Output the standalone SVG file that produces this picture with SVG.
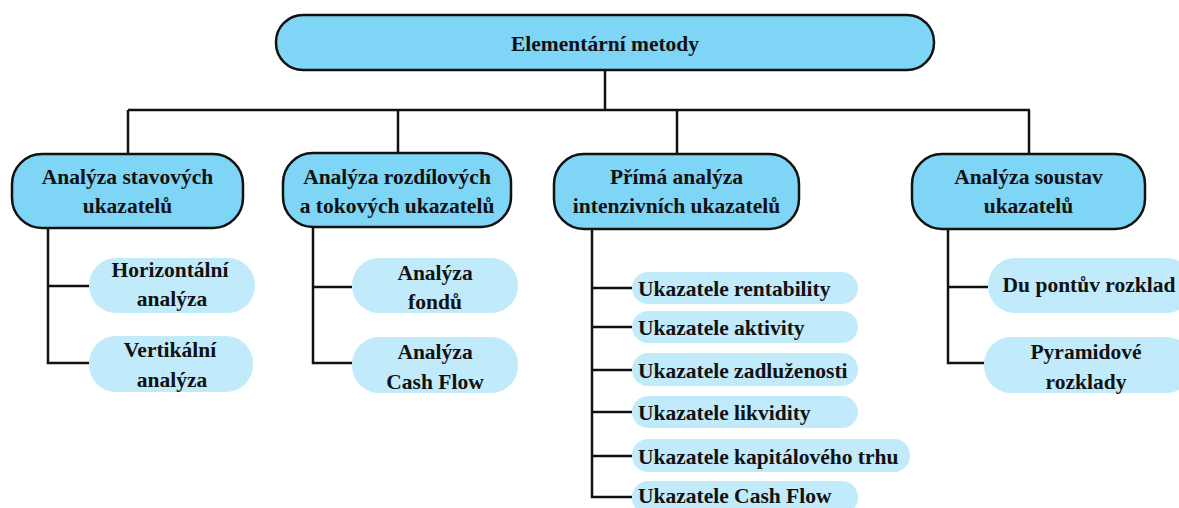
<svg xmlns="http://www.w3.org/2000/svg" width="1179" height="508" viewBox="0 0 1179 508">
<style>
.main{fill:#7fd5f5;stroke:#111;stroke-width:2.5}
.sub{fill:#c1ebfb;stroke:none}
text{font-family:"Liberation Serif","Times New Roman",serif;font-weight:bold;font-size:21.5px;fill:#111}
.c{text-anchor:middle}
.conn{fill:none;stroke:#111;stroke-width:2.5}
</style>
<rect width="1179" height="508" fill="#fff"/>
<g id="connectors" class="conn">
<path d="M605 70V110M128 110H1030M128 110V154M398 110V153M677 110V154M1029 110V154"/>
<path d="M48 228V363H89M48 286H89"/>
<path d="M313 227V363H352M313 287H352"/>
<path d="M592 229V497H632M592 288H632M592 327H632M592 370H632M592 412H632M592 456H632"/>
<path d="M948 229V363H984M948 287H988"/>
</g>
<g id="root"><rect class="main" x="276" y="15" width="658" height="55" rx="27"/><text class="c" x="605" y="51">Elementární metody</text></g>
<g id="n1"><rect class="main" x="12" y="154" width="231" height="74" rx="30"/><text class="c" x="127.5" y="184">Analýza stavových</text><text class="c" x="127.5" y="213">ukazatelů</text></g>
<g id="n2"><rect class="main" x="283" y="153" width="228" height="74" rx="30"/><text class="c" x="397" y="184">Analýza rozdílových</text><text class="c" x="397" y="213">a tokových ukazatelů</text></g>
<g id="n3"><rect class="main" x="554" y="154" width="245" height="75" rx="30"/><text class="c" x="676.5" y="184">Přímá analýza</text><text class="c" x="676.5" y="213">intenzivních ukazatelů</text></g>
<g id="n4"><rect class="main" x="912" y="154" width="233" height="75" rx="30"/><text class="c" x="1028.5" y="184">Analýza soustav</text><text class="c" x="1028.5" y="213">ukazatelů</text></g>
<g id="n1a"><rect class="sub" x="89" y="258" width="166" height="55" rx="27"/><text class="c" x="170" y="277">Horizontální</text><text class="c" x="172" y="306">analýza</text></g>
<g id="n1b"><rect class="sub" x="89" y="336" width="164" height="56" rx="27"/><text class="c" x="170" y="357">Vertikální</text><text class="c" x="172" y="387">analýza</text></g>
<g id="n2a"><rect class="sub" x="352" y="258" width="166" height="55" rx="27"/><text class="c" x="435" y="280">Analýza</text><text class="c" x="435" y="309">fondů</text></g>
<g id="n2b"><rect class="sub" x="352" y="337" width="166" height="56" rx="27"/><text class="c" x="435" y="359">Analýza</text><text class="c" x="435" y="389">Cash Flow</text></g>
<g id="n3a"><rect class="sub" x="632" y="272" width="226" height="32" rx="16"/><text x="638" y="296">Ukazatele rentability</text></g>
<g id="n3b"><rect class="sub" x="632" y="311" width="226" height="32" rx="16"/><text x="638" y="335">Ukazatele aktivity</text></g>
<g id="n3c"><rect class="sub" x="632" y="353" width="226" height="33" rx="16"/><text x="638" y="378">Ukazatele zadluženosti</text></g>
<g id="n3d"><rect class="sub" x="632" y="396" width="226" height="32" rx="16"/><text x="638" y="420">Ukazatele likvidity</text></g>
<g id="n3e"><rect class="sub" x="632" y="439" width="278" height="33" rx="16"/><text x="638" y="464">Ukazatele kapitálového trhu</text></g>
<g id="n3f"><rect class="sub" x="632" y="481" width="226" height="33" rx="16"/><text x="638" y="503">Ukazatele Cash Flow</text></g>
<g id="n4a"><rect class="sub" x="988" y="258" width="205" height="55" rx="27"/><text class="c" x="1089" y="292">Du pontův rozklad</text></g>
<g id="n4b"><rect class="sub" x="984" y="337" width="209" height="56" rx="27"/><text class="c" x="1086" y="359">Pyramidové</text><text class="c" x="1086" y="389">rozklady</text></g>
</svg>
